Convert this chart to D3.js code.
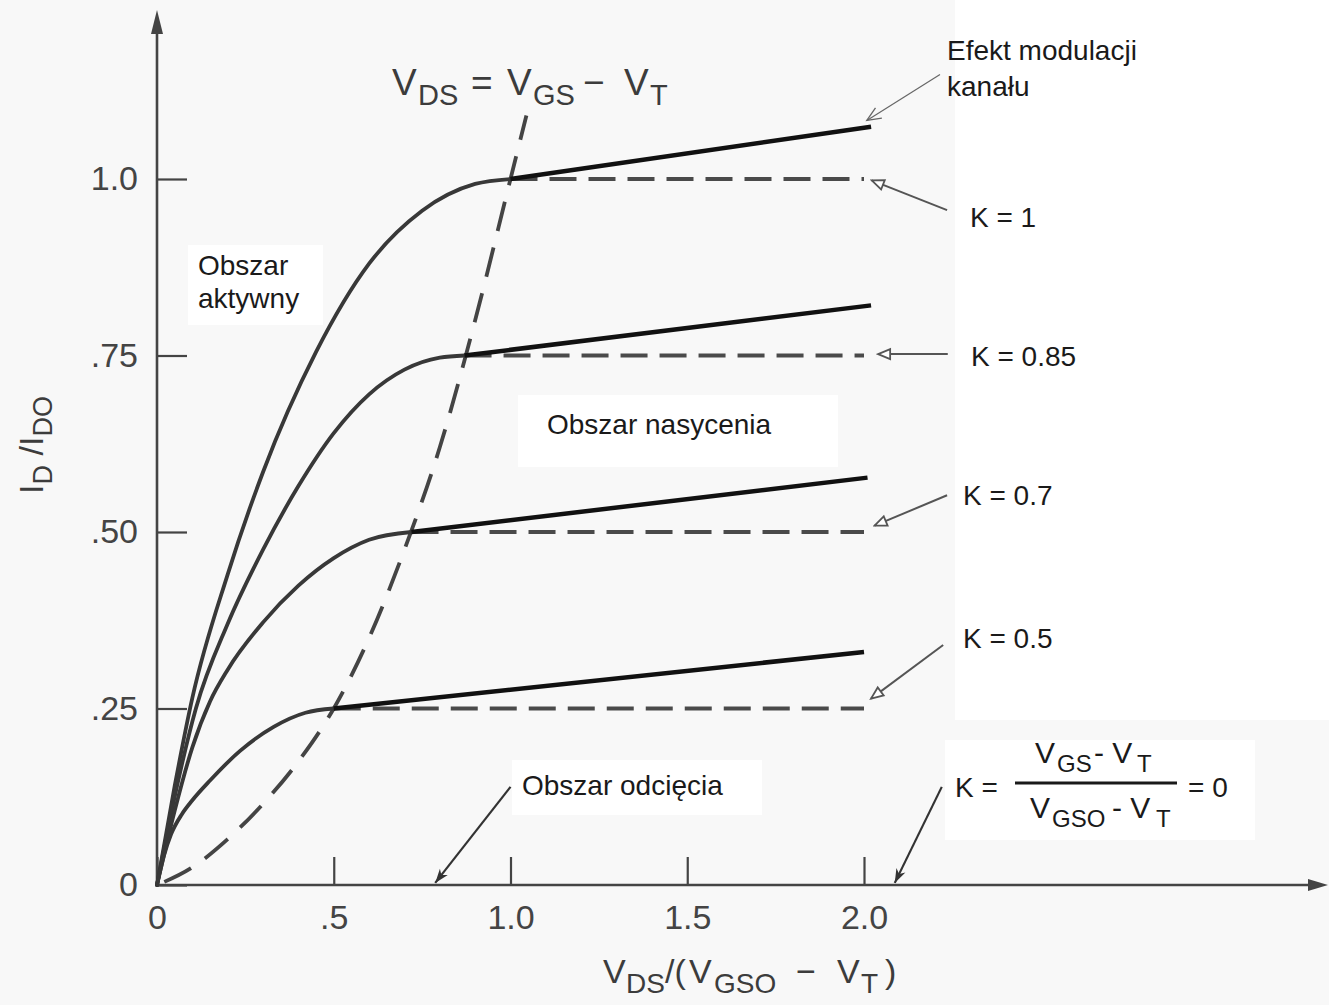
<!DOCTYPE html>
<html>
<head>
<meta charset="utf-8">
<script src="https://cdn.jsdelivr.net/npm/d3@7"></script>
<style>
  html, body { margin: 0; padding: 0; background: #f8f8f8; }
  svg { display: block; }
  text { font-family: "Liberation Sans", Arial, sans-serif; }
</style>
</head>
<body>
<svg id="chart" width="1329" height="1005"></svg>
<script>
// ---------------- data ----------------
const xTickValues = [0, 0.5, 1.0, 1.5, 2.0];
const xTickLabels = ["0", ".5", "1.0", "1.5", "2.0"];
const yTickValues = [0, 0.25, 0.5, 0.75, 1.0];
const yTickLabels = ["0", ".25", ".50", ".75", "1.0"];

// active-region curves (x = VDS/(VGSO-VT), y = ID/IDO)
const curveK1   = [[0,0],[0.05,0.14],[0.1,0.265],[0.2,0.44],[0.3,0.585],[0.45,0.755],[0.6,0.88],[0.75,0.955],[0.9,0.993],[1.0,1.0]];
const curveK085 = [[0,0],[0.05,0.125],[0.11,0.25],[0.2,0.37],[0.3,0.475],[0.4,0.565],[0.5,0.64],[0.6,0.695],[0.7,0.73],[0.8,0.747],[0.87,0.75]];
const curveK07  = [[0,0],[0.05,0.105],[0.1,0.195],[0.15,0.26],[0.2,0.305],[0.3,0.372],[0.4,0.424],[0.5,0.463],[0.6,0.489],[0.72,0.50]];
const curveK05  = [[0,0],[0.02,0.042],[0.04,0.072],[0.07,0.1],[0.1,0.12],[0.15,0.148],[0.235,0.19],[0.33,0.224],[0.42,0.244],[0.5,0.25]];
const activeCurves = [curveK1, curveK085, curveK07, curveK05];

// saturation levels (dashed) and knee positions
const satLevels = [1.0, 0.75, 0.50, 0.25];
const kneeX     = [1.0, 0.87, 0.72, 0.50];
const satEndX   = 2.0;

// channel-length-modulation lines (solid black) end points
const modEndX = [2.02, 2.02, 2.01, 2.0];
const modEndY = [1.074, 0.821, 0.577, 0.330];

// locus VDS = VGS - VT (dashed)
const locus = [[0,0],[0.1,0.025],[0.2,0.065],[0.3,0.115],[0.4,0.175],[0.5,0.25],[0.6,0.35],[0.7,0.475],[0.8,0.62],[0.9,0.8],[1.0,1.0],[1.045,1.09]];

// K labels
const kLabels = ["K = 1", "K = 0.85", "K = 0.7", "K = 0.5"];

// ---------------- layout ----------------
const svg = d3.select("#chart");
const x = d3.scaleLinear().domain([0, 2]).range([157, 864]);
const y = d3.scaleLinear().domain([0, 1]).range([885, 179]);

const axisColor = "#444";
const curveColor = "#383838";

// defs: arrow markers
const defs = svg.append("defs");
defs.append("marker").attr("id", "openTri")
  .attr("viewBox", "-14 -7 16 14").attr("refX", 0).attr("refY", 0)
  .attr("markerWidth", 16).attr("markerHeight", 14).attr("markerUnits", "userSpaceOnUse")
  .attr("orient", "auto")
  .append("path").attr("d", "M0,0 L-12,-5 L-12,5 Z")
  .attr("fill", "#fff").attr("stroke", "#555").attr("stroke-width", 1.8);
defs.append("marker").attr("id", "openV")
  .attr("viewBox", "-16 -8 18 16").attr("refX", 0).attr("refY", 0)
  .attr("markerWidth", 18).attr("markerHeight", 16).attr("markerUnits", "userSpaceOnUse")
  .attr("orient", "auto")
  .append("path").attr("d", "M-14,-6 L0,0 L-14,6")
  .attr("fill", "none").attr("stroke", "#666").attr("stroke-width", 1.3);
defs.append("marker").attr("id", "filledTri")
  .attr("viewBox", "-16 -8 18 16").attr("refX", 0).attr("refY", 0)
  .attr("markerWidth", 18).attr("markerHeight", 16).attr("markerUnits", "userSpaceOnUse")
  .attr("orient", "auto")
  .append("path").attr("d", "M0,0 L-14,-5 L-10,0 L-14,5 Z")
  .attr("fill", "#333");

// white patches behind annotation labels (as in the scanned original)
const patches = [
  [955, 0, 374, 720], [188, 245, 135, 80], [518, 395, 320, 72], [512, 760, 250, 55],
  [945, 740, 310, 100]
];
svg.append("g").selectAll("rect").data(patches).join("rect")
  .attr("x", d => d[0]).attr("y", d => d[1]).attr("width", d => d[2]).attr("height", d => d[3])
  .attr("fill", "#fff");

// ---------------- axes ----------------
const xAxis = d3.axisBottom(x).tickValues(xTickValues)
  .tickFormat((d, i) => xTickLabels[i]).tickSize(-28).tickPadding(20);
const gx = svg.append("g").attr("transform", `translate(0,${y(0)})`).call(xAxis);
gx.select(".domain").remove();
gx.selectAll(".tick line").attr("stroke", axisColor).attr("stroke-width", 2.2);
gx.selectAll(".tick text").attr("fill", "#444").attr("font-size", 34)
  .attr("font-family", "'Liberation Sans', Arial, sans-serif");

const yAxis = d3.axisLeft(y).tickValues(yTickValues)
  .tickFormat((d, i) => yTickLabels[i]).tickSize(-30).tickPadding(19);
const gy = svg.append("g").attr("transform", `translate(${x(0)},0)`).call(yAxis);
gy.select(".domain").remove();
gy.selectAll(".tick line").attr("stroke", axisColor).attr("stroke-width", 2.2);
gy.selectAll(".tick text").attr("fill", "#444").attr("font-size", 34)
  .attr("font-family", "'Liberation Sans', Arial, sans-serif");

// axis lines with arrowheads
svg.append("line").attr("x1", x(0)).attr("y1", y(0)).attr("x2", x(0)).attr("y2", 28)
  .attr("stroke", axisColor).attr("stroke-width", 2.6);
svg.append("path").attr("d", `M${x(0)},10 L${x(0) - 6},34 L${x(0) + 6},34 Z`).attr("fill", axisColor);
svg.append("line").attr("x1", x(0)).attr("y1", y(0)).attr("x2", 1312).attr("y2", y(0))
  .attr("stroke", axisColor).attr("stroke-width", 2.6);
svg.append("path").attr("d", `M1328,${y(0)} L1308,${y(0) - 6} L1308,${y(0) + 6} Z`).attr("fill", axisColor);

// ---------------- marks ----------------
const line = d3.line().x(d => x(d[0])).y(d => y(d[1])).curve(d3.curveMonotoneX);

// locus VDS = VGS - VT
svg.append("path").datum(locus).attr("d", line)
  .attr("fill", "none").attr("stroke", "#444").attr("stroke-width", 3.8)
  .attr("stroke-dasharray", "30 17").attr("stroke-dashoffset", -8);

// saturation dashed lines
svg.append("g").selectAll("path").data(satLevels).join("path")
  .attr("d", (d, i) => line([[kneeX[i], d], [satEndX, d]]))
  .attr("fill", "none").attr("stroke", "#4a4a4a").attr("stroke-width", 4)
  .attr("stroke-dasharray", "27 12");

// active-region curves
svg.append("g").selectAll("path").data(activeCurves).join("path")
  .attr("d", line)
  .attr("fill", "none").attr("stroke", curveColor).attr("stroke-width", 3.8)
  .attr("stroke-linecap", "round");

// channel modulation lines
svg.append("g").selectAll("path").data(satLevels).join("path")
  .attr("d", (d, i) => d3.line()([[x(kneeX[i]), y(d)], [x(modEndX[i]), y(modEndY[i])]]))
  .attr("fill", "none").attr("stroke", "#111").attr("stroke-width", 4.5);

// ---------------- annotations ----------------
const annColor = "#1a1a1a";
function txt(xp, yp, s, size) {
  return svg.append("text").attr("x", xp).attr("y", yp).attr("font-size", size || 28)
    .attr("fill", annColor).text(s);
}

// arrows (start in label space, end on the data lines), in data units
const arrows = [
  {from: [2.215, 1.148], to: [2.008, 1.083], m: "openV", w: 1.2, c: "#666"},
  {from: [2.235, 0.956], to: [2.022, 0.998], m: "openTri", w: 2, c: "#555"},
  {from: [2.237, 0.752], to: [2.04, 0.752], m: "openTri", w: 2, c: "#555"},
  {from: [2.235, 0.552], to: [2.03, 0.509], m: "openTri", w: 2, c: "#555"},
  {from: [2.224, 0.340], to: [2.02, 0.264], m: "openTri", w: 2, c: "#555"},
  {from: [1.0, 0.139], to: [0.787, 0.003], m: "filledTri", w: 2.2, c: "#333"},
  {from: [2.22, 0.139], to: [2.087, 0.003], m: "filledTri", w: 2.2, c: "#333"}
];
svg.append("g").selectAll("line").data(arrows).join("line")
  .attr("x1", d => x(d.from[0])).attr("y1", d => y(d.from[1]))
  .attr("x2", d => x(d.to[0])).attr("y2", d => y(d.to[1]))
  .attr("stroke", d => d.c).attr("stroke-width", d => d.w)
  .attr("marker-end", d => `url(#${d.m})`);

txt(947, 60, "Efekt modulacji");
txt(947, 96, "kanału");
const kPos = [[970, 227], [971, 366], [963, 505], [963, 648]];
kLabels.forEach((s, i) => txt(kPos[i][0], kPos[i][1], s));
txt(198, 275, "Obszar");
txt(198, 308, "aktywny");
txt(547, 434, "Obszar nasycenia");
txt(522, 795, "Obszar odcięcia");

// K = (VGS - VT)/(VGSO - VT) = 0
txt(955, 797, "K =");
svg.append("line").attr("x1", 1015).attr("x2", 1177).attr("y1", 783).attr("y2", 783)
  .attr("stroke", annColor).attr("stroke-width", 3);
function pieces(sel, parts, baseY, big, small, shift) {
  parts.forEach(p => {
    sel.append("text").attr("x", p[0]).attr("y", baseY + (p[2] ? shift : 0))
      .attr("font-size", p[2] ? small : big).attr("fill", sel.attr("data-fill") || annColor)
      .text(p[1]);
  });
}
const frac = svg.append("g");
pieces(frac, [[1035, "V", 0], [1057, "GS", 1], [1094, "- V", 0], [1137, "T", 1]], 763, 30, 24, 9);
pieces(frac, [[1030, "V", 0], [1052, "GSO", 1], [1112, "- V", 0], [1156, "T", 1]], 818, 30, 24, 9);
txt(1188, 797, "= 0");

// title: VDS = VGS − VT
const grayText = "#3c3c3c";
const title = svg.append("g").attr("data-fill", grayText);
pieces(title, [[392, "V", 0], [418, "DS", 1], [471, "=", 0], [507, "V", 0], [533, "GS", 1], [583, "\u2212", 0], [624, "V", 0], [650, "T", 1]], 95, 37, 29, 10);

// x-axis title
const xt = svg.append("g").attr("data-fill", grayText);
pieces(xt, [[603, "V", 0], [626, "DS", 1], [665, "/(", 0], [689, "V", 0], [714, "GSO", 1], [796, "\u2212", 0], [837, "V", 0], [861, "T", 1], [885, ")", 0]], 983, 34, 28, 10);

// y-axis title
const yt = svg.append("text").attr("transform", "translate(43,445) rotate(-90)")
  .attr("text-anchor", "middle").attr("font-size", 34).attr("fill", grayText);
yt.append("tspan").text("I");
yt.append("tspan").attr("font-size", 27).attr("dy", 9).text("D");
yt.append("tspan").attr("dy", -9).text(" /I");
yt.append("tspan").attr("font-size", 27).attr("dy", 9).text("DO");
</script>
</body>
</html>
